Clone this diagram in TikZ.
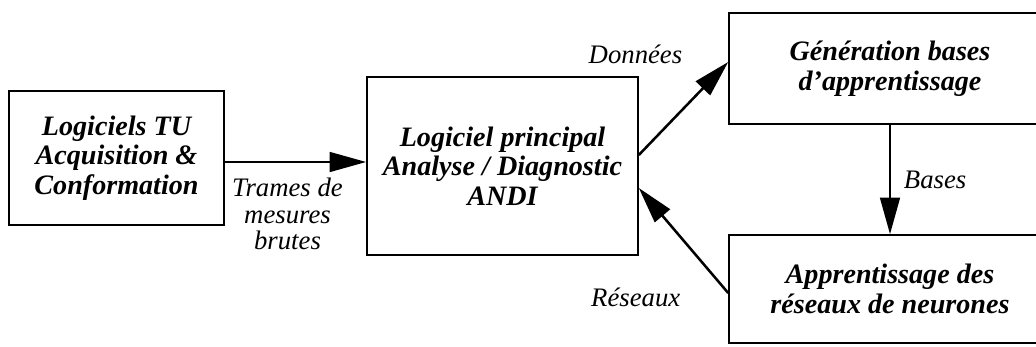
\documentclass[tikz,border=0pt]{standalone}
\usepackage{fontspec}
\setmainfont{Liberation Serif}
\usetikzlibrary{positioning, calc, arrows.meta}

\begin{document}
\begin{tikzpicture}[x=0.025cm, y=-0.025cm,
		bloc/.style={draw, line width=1.1pt, align=center, font=\fontsize{20}{21}\selectfont\bfseries\itshape},
		lien/.style={align=center, font=\fontsize{19}{19}\selectfont\itshape},
		>={Triangle[length=26pt, width=14pt]}]
			\clip (0,0) rectangle (1036,347);
			\node (n1) [bloc, minimum width=5.375cm, minimum height=3.35cm] at (116.5,158) {Logiciels TU\\Acquisition \&\\Conformation};
			\node (n2) [bloc, minimum width=6.775cm, minimum height=4.45cm] at (502.5,166) {Logiciel principal\\Analyse / Diagnostic\\ANDI};
			\node (n3) [bloc, minimum width=8.05cm, minimum height=2.775cm] at (890,68.5) {Génération bases\\d'apprentissage};
			\node (n4) [bloc, minimum width=8.05cm, minimum height=2.7cm] at (890,289) {Apprentissage des\\réseaux de neurones};
			\draw [->, line width=1.8pt] ($(n1.east)+(0,4)$) -- ($(n2.west)+(0,-4)$) node[lien, midway, below=0.25cm, xshift=-0.2cm] {Trames de\\mesures\\brutes};

			\draw [->, line width=1.8pt] ($(n2.east)+(0,-11)$) -- ($(n3.west)+(0,-6.5)$) node[lien, at end, anchor=east, xshift=-1.0cm, yshift=0.18cm] {Données};
			\draw [->, line width=1.8pt] ($(n4.west)+(0,4)$) -- ($(n2.east)+(0,22)$) node[lien, at start, anchor=east, xshift=-1.05cm, yshift=-0.1cm] {Réseaux};

			\draw [->, line width=1.8pt] (n3) -- (n4) node[lien, midway, right=0.2cm] {Bases};
		\end{tikzpicture}
\end{document}
